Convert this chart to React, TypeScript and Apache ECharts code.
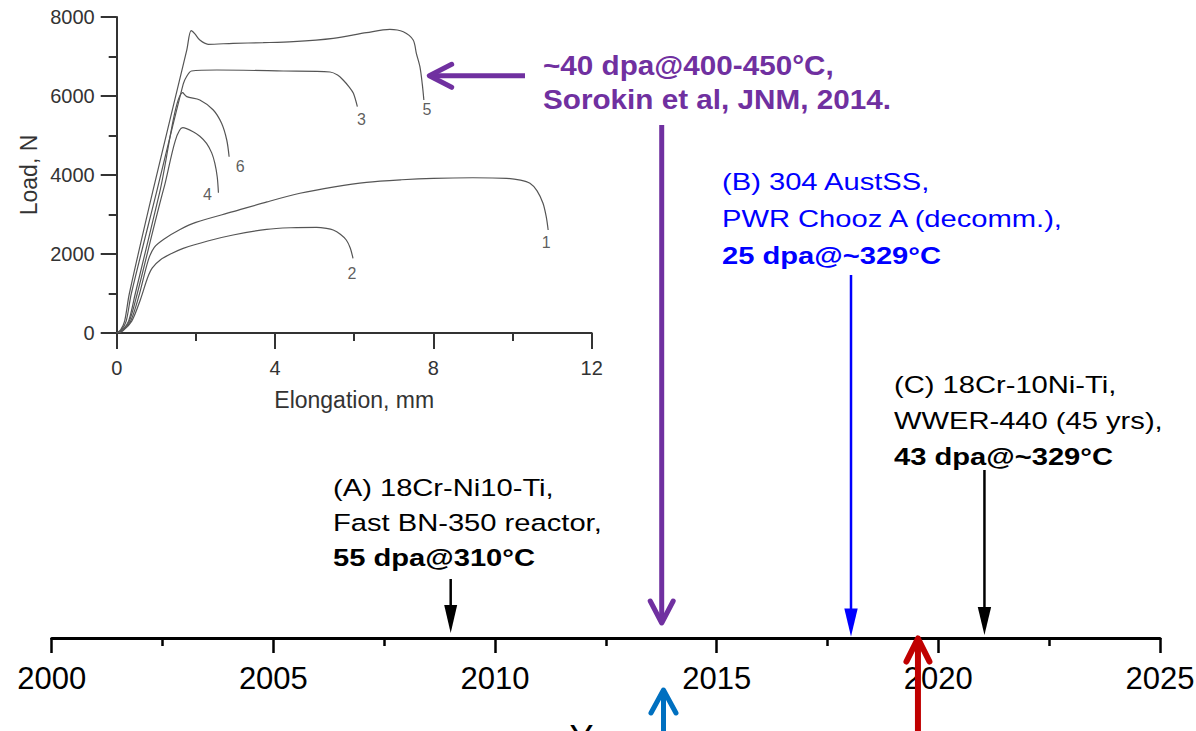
import React, { useEffect, useRef } from "react";
import * as echarts from "echarts";

// Load–elongation curves (mm, N), numbered 1–6
const curve1: number[][] = [
  [0, 0], [0.15, 60], [0.35, 300], [0.55, 900], [0.8, 1850], [0.95, 2170], [1.2, 2380],
  [1.6, 2620], [2.0, 2800], [2.94, 3071], [3.8, 3320], [4.63, 3537], [5.5, 3700],
  [6.31, 3815], [7.2, 3880], [8.0, 3916], [9.0, 3930], [9.85, 3916], [10.2, 3870],
  [10.44, 3790], [10.62, 3600], [10.77, 3283], [10.85, 2950], [10.9, 2608],
];
const curve2: number[][] = [
  [0, 0], [0.15, 50], [0.38, 300], [0.6, 850], [0.78, 1400], [0.9, 1650], [1.1, 1850],
  [1.4, 2020], [1.68, 2144], [2.3, 2330], [2.94, 2481], [3.79, 2625], [4.4, 2665],
  [5.05, 2676], [5.3, 2650], [5.47, 2608], [5.65, 2500], [5.8, 2354], [5.9, 2150], [5.97, 1891],
];
const curve3: number[][] = [
  [0, 0], [0.12, 80], [0.24, 300], [0.37, 1000], [1.01, 3580], [1.68, 6300], [1.77, 6500],
  [1.89, 6633], [2.53, 6658], [4.21, 6633], [5.39, 6608], [5.58, 6530], [5.72, 6405],
  [5.88, 6220], [5.98, 6068], [6.08, 5730],
];
const curve4: number[][] = [
  [0, 0], [0.15, 80], [0.32, 300], [0.52, 1000], [1.2, 3700], [1.67, 5198], [1.93, 5096],
  [2.1, 4980], [2.27, 4802], [2.4, 4560], [2.48, 4296], [2.54, 3950], [2.57, 3552],
];
const curve5: number[][] = [
  [0, 0], [0.1, 80], [0.2, 300], [0.32, 1000], [0.91, 3580], [1.77, 7164], [1.88, 7653],
  [1.97, 7580], [2.1, 7417], [2.31, 7309], [2.94, 7334], [3.7, 7350], [4.46, 7375],
  [5.47, 7460], [6.31, 7603], [6.9, 7689], [7.24, 7627], [7.49, 7418], [7.57, 7080],
  [7.66, 6742], [7.72, 6300], [7.76, 5900],
];
const curve6: number[][] = [
  [0, 0], [0.15, 80], [0.3, 300], [0.47, 1000], [1.09, 3580], [1.67, 6084], [1.77, 5983],
  [2.1, 5899], [2.44, 5646], [2.65, 5308], [2.78, 4886], [2.84, 4463],
];
const curves = [curve1, curve2, curve3, curve4, curve5, curve6];
const curveNames = ["1", "2", "3", "4", "5", "6"];

// Timeline: years marked by downward arrows (A, Sorokin 2014, B, C) and upward arrows
const downYears = [2009.0, 2013.76, 2018.03, 2021.04];
const upYears = [2013.8, 2019.54];

const noteA = ["(A) 18Cr-Ni10-Ti,", "Fast BN-350 reactor,", "55 dpa@310°C"];
const noteB = ["(B) 304 AustSS,", "PWR Chooz A (decomm.),", "25 dpa@~329°C"];
const noteC = ["(C) 18Cr-10Ni-Ti,", "WWER-440 (45 yrs),", "43 dpa@~329°C"];
const noteSorokin = ["~40 dpa@400-450°C,", "Sorokin et al, JNM, 2014."];

const FONT = '"Liberation Sans", Arial, Helvetica, sans-serif';
const PURPLE = "#7030A0";

// Label offsets (px) of curve numbers relative to each curve's last point
const curveLabelOffsets = [[-2, 13], [-1, 15], [4, 13], [-11, 2], [3, 10], [11, 10]];

// Arrow styling, keyed by index in downYears / upYears (offsets relative to the axis line)
const downArrowStyles = [
  { color: "#000000", top: -59, tip: -5, head: "solid", width: 2.5, headLen: 28, headHalf: 6.5 },
  { color: PURPLE, top: -513, tip: -15, head: "open", width: 5, headLen: 22, headHalf: 11.5 },
  { color: "#0000FF", top: -363, tip: -1.5, head: "solid", width: 2.5, headLen: 28, headHalf: 6.7 },
  { color: "#000000", top: -168, tip: -3, head: "solid", width: 2.5, headLen: 28, headHalf: 6.7 },
];
const upArrowStyles = [
  { color: "#0070C0", tip: 52, width: 5, headLen: 23, headHalf: 12.5 },
  { color: "#C00000", tip: 0.5, width: 6, headLen: 23, headHalf: 11.5 },
];

function textLines(
  lines: string[],
  x: number,
  y0: number,
  step: number,
  fontSize: number,
  color: string,
  scaleX: number,
  boldFrom: number
) {
  return lines.map((t, i) => ({
    type: "text",
    x,
    y: y0 + i * step,
    scaleX,
    silent: true,
    style: {
      text: t,
      fill: color,
      fontSize,
      fontFamily: FONT,
      fontWeight: i >= boldFrom ? "bold" : "normal",
      textAlign: "left",
      textVerticalAlign: "middle",
      verticalAlign: "middle",
    },
  }));
}

export default function App() {
  const ref = useRef<HTMLDivElement>(null);

  useEffect(() => {
    if (!ref.current) return;
    const chart = echarts.init(ref.current, undefined, { renderer: "svg" });

    const curveSeries = curves.map((c, i) => ({
      type: "line",
      name: "curve " + curveNames[i],
      xAxisIndex: 0,
      yAxisIndex: 0,
      data: c,
      showSymbol: false,
      symbol: "none",
      smooth: 0.3,
      lineStyle: { color: "#555", width: 1.2 },
      silent: true,
    }));

    const option: any = {
      animation: false,
      textStyle: { fontFamily: FONT },
      grid: [
        { left: 116.7, top: 17, width: 475, height: 316, outerBoundsMode: "none", containLabel: false },
        { left: 51.7, right: 36, top: 300, bottom: 93, outerBoundsMode: "none", containLabel: false },
      ],
      xAxis: [
        {
          gridIndex: 0,
          type: "value",
          min: 0,
          max: 12,
          interval: 4,
          axisLine: { lineStyle: { color: "#333", width: 2 } },
          axisTick: { length: 16, lineStyle: { color: "#333", width: 2 } },
          minorTick: { show: true, splitNumber: 2, length: 8, lineStyle: { color: "#333", width: 2 } },
          splitLine: { show: false },
          axisLabel: { fontSize: 20, color: "#333", margin: 25, formatter: (v: number) => String(v) },
          name: "Elongation, mm",
          nameLocation: "middle",
          nameGap: 55,
          nameTextStyle: { fontSize: 23, color: "#333" },
        },
        {
          gridIndex: 1,
          type: "value",
          min: 2000,
          max: 2025,
          interval: 5,
          axisLine: { lineStyle: { color: "#000", width: 3 } },
          axisTick: { length: 15, lineStyle: { color: "#000", width: 2.5 } },
          minorTick: { show: true, splitNumber: 2, length: 8, lineStyle: { color: "#000", width: 2.5 } },
          splitLine: { show: false },
          axisLabel: { fontSize: 31, color: "#000", margin: 25, formatter: (v: number) => String(v) },
          name: "Year",
          nameLocation: "middle",
          nameGap: 82,
          nameTextStyle: { fontSize: 36, color: "#000" },
        },
      ],
      yAxis: [
        {
          gridIndex: 0,
          type: "value",
          min: 0,
          max: 8000,
          interval: 2000,
          axisLine: { show: true, lineStyle: { color: "#333", width: 2 } },
          axisTick: { show: true, length: 16, lineStyle: { color: "#333", width: 2 } },
          minorTick: { show: true, splitNumber: 2, length: 8, lineStyle: { color: "#333", width: 2 } },
          splitLine: { show: false },
          axisLabel: { fontSize: 20, color: "#333", margin: 22, formatter: (v: number) => String(v) },
          name: "Load, N",
          nameLocation: "middle",
          nameGap: 76,
          nameTextStyle: { fontSize: 23, color: "#333" },
        },
        { gridIndex: 1, type: "value", min: 0, max: 1, show: false },
      ],
      series: [
        ...curveSeries,
        {
          type: "scatter",
          xAxisIndex: 0,
          yAxisIndex: 0,
          silent: true,
          symbolSize: 1,
          itemStyle: { color: "rgba(0,0,0,0)" },
          data: curves.map((c, i) => ({
            value: c[c.length - 1],
            label: { offset: curveLabelOffsets[i] },
          })),
          label: {
            show: true,
            position: "inside",
            fontSize: 16,
            color: "#333",
            formatter: (p: any) => curveNames[p.dataIndex],
          },
        },
        {
          type: "custom",
          xAxisIndex: 1,
          yAxisIndex: 1,
          clip: false,
          silent: true,
          data: downYears.map((y) => [y, 0]),
          renderItem: (params: any, api: any) => {
            const [x, ay] = api.coord([api.value(0), 0]);
            const s = downArrowStyles[params.dataIndex];
            const tipY = ay + s.tip;
            const children: any[] = [];
            if (s.head === "solid") {
              children.push({
                type: "line",
                shape: { x1: x, y1: ay + s.top, x2: x, y2: tipY - s.headLen + 2 },
                style: { stroke: s.color, lineWidth: s.width },
              });
              children.push({
                type: "polygon",
                shape: {
                  points: [[x - s.headHalf, tipY - s.headLen], [x + s.headHalf, tipY - s.headLen], [x, tipY]],
                },
                style: { fill: s.color },
              });
            } else {
              children.push({
                type: "line",
                shape: { x1: x, y1: ay + s.top, x2: x, y2: tipY - 2 },
                style: { stroke: s.color, lineWidth: s.width },
              });
              children.push({
                type: "polyline",
                shape: {
                  points: [[x - s.headHalf, tipY - s.headLen], [x, tipY], [x + s.headHalf, tipY - s.headLen]],
                },
                style: { stroke: s.color, lineWidth: s.width, fill: "none", lineCap: "round", lineJoin: "round" },
              });
            }
            return { type: "group", children };
          },
        },
        {
          type: "custom",
          xAxisIndex: 1,
          yAxisIndex: 1,
          clip: false,
          silent: true,
          data: upYears.map((y) => [y, 0]),
          renderItem: (params: any, api: any) => {
            const [x, ay] = api.coord([api.value(0), 0]);
            const s = upArrowStyles[params.dataIndex];
            const tipY = ay + s.tip;
            return {
              type: "group",
              children: [
                {
                  type: "line",
                  shape: { x1: x, y1: tipY + 2, x2: x, y2: ay + 120 },
                  style: { stroke: s.color, lineWidth: s.width },
                },
                {
                  type: "polyline",
                  shape: {
                    points: [[x - s.headHalf, tipY + s.headLen], [x, tipY], [x + s.headHalf, tipY + s.headLen]],
                  },
                  style: { stroke: s.color, lineWidth: s.width, fill: "none", lineCap: "round", lineJoin: "round" },
                },
              ],
            };
          },
        },
      ],
      graphic: [
        // arrow pointing at curve 5
        {
          type: "line",
          silent: true,
          shape: { x1: 525, y1: 75.7, x2: 432, y2: 75.7 },
          style: { stroke: PURPLE, lineWidth: 5 },
        },
        {
          type: "polyline",
          silent: true,
          shape: { points: [[451.7, 64.3], [429.3, 75.7], [451.7, 87.3]] },
          style: { stroke: PURPLE, lineWidth: 5, fill: "none", lineCap: "round", lineJoin: "round" },
        },
        ...textLines(noteSorokin, 543, 65.5, 34, 28, PURPLE, 1.06, 0),
        ...textLines(noteB, 722, 181.5, 37, 24.5, "#0000FF", 1.19, 2),
        ...textLines(noteC, 894, 384.5, 36, 24.5, "#000000", 1.19, 2),
        ...textLines(noteA, 333, 488, 35, 24.5, "#000000", 1.19, 2),
      ],
    };

    chart.setOption(option);
    return () => chart.dispose();
  }, []);

  return (
    <div
      ref={ref}
      style={{ position: "fixed", left: 0, top: 0, width: 1196, height: 731, background: "#fff" }}
    />
  );
}
